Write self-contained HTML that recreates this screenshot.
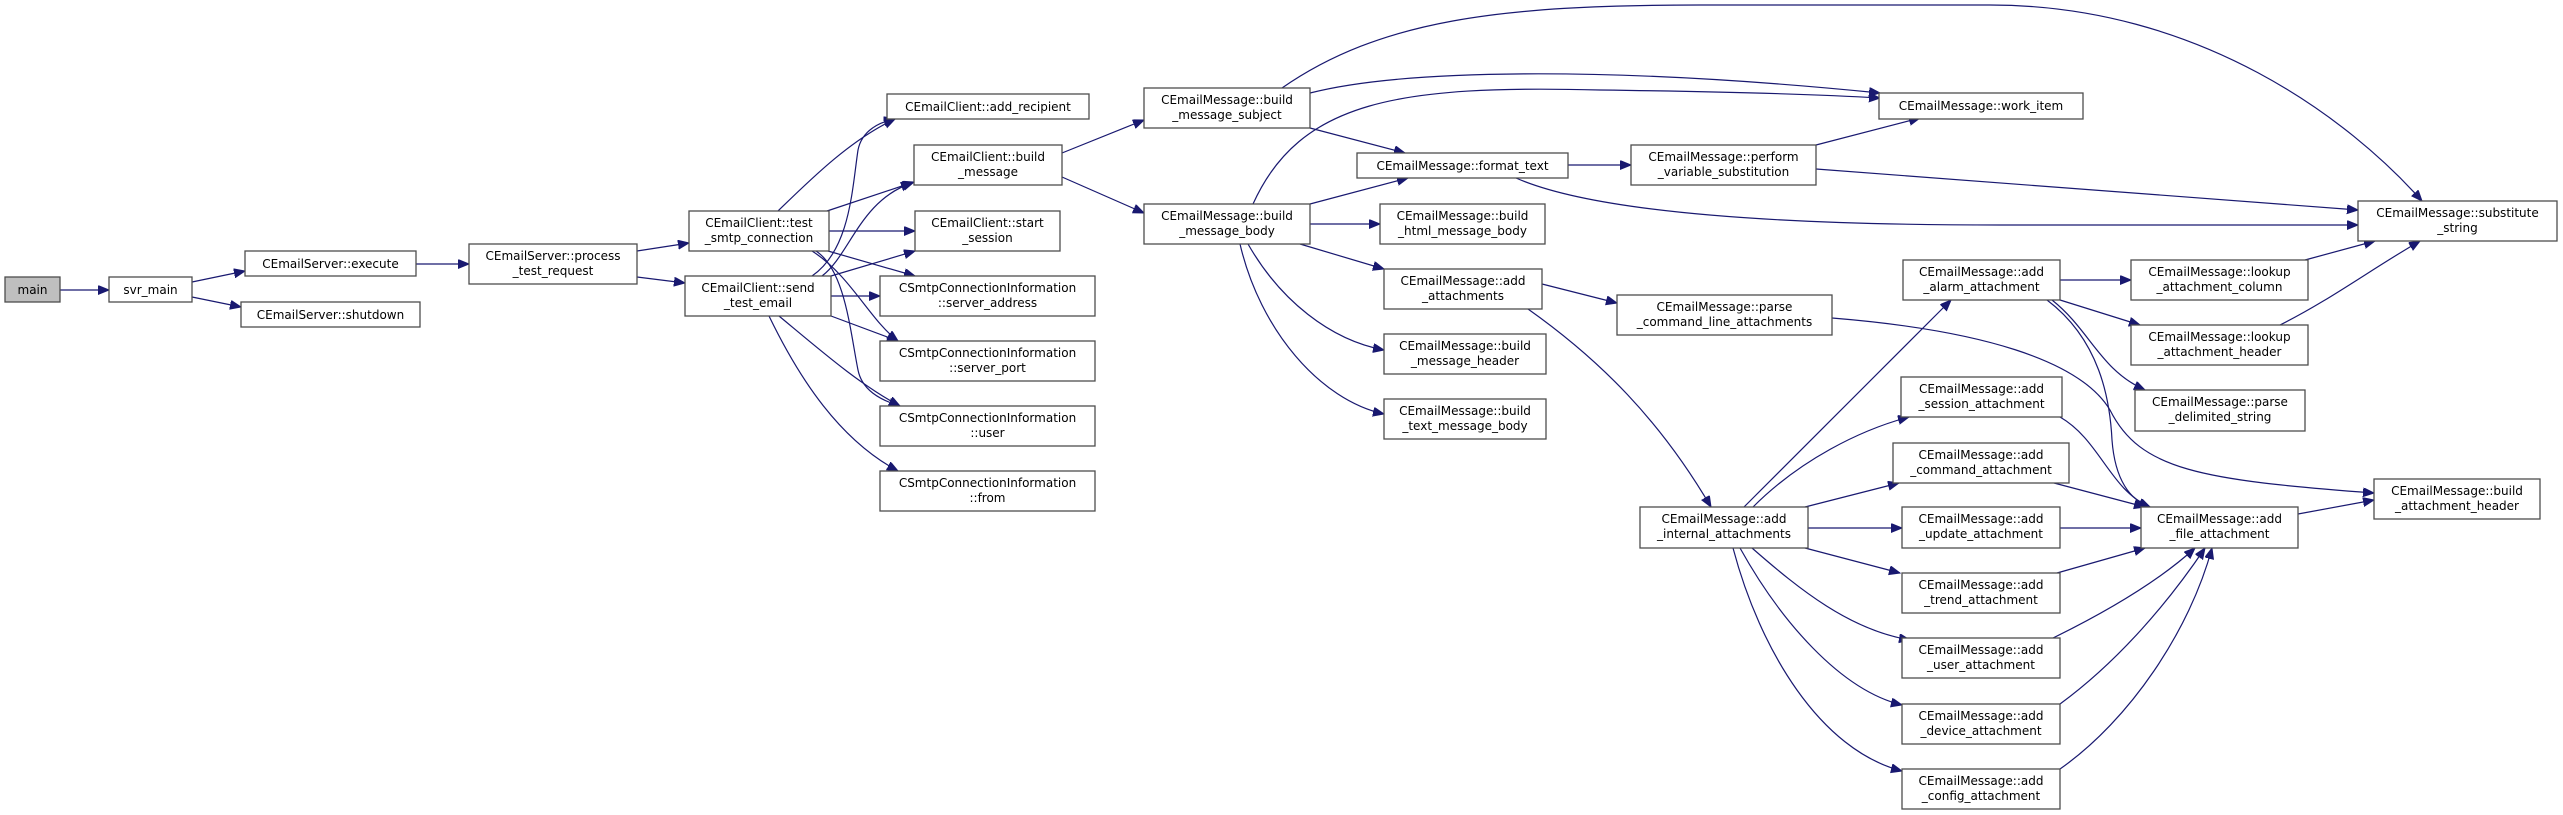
<!DOCTYPE html>
<html><head><meta charset="utf-8"><style>
html,body{margin:0;padding:0;background:#fff;}
svg{display:block}
text{font-family:"DejaVu Sans","Liberation Sans",sans-serif;font-size:12px;fill:#000;text-anchor:middle}
rect{fill:#fff;stroke:#4d4d4d;stroke-width:1.3}
path{fill:none;stroke:#191970;stroke-width:1.2}
</style></head><body>
<svg width="2563" height="815" viewBox="0 0 2563 815" xmlns="http://www.w3.org/2000/svg">
<defs><marker id="a" markerUnits="userSpaceOnUse" markerWidth="12" markerHeight="10" refX="11" refY="4.5" orient="auto"><polygon points="0,0 11,4.5 0,9" fill="#191970" stroke="#191970"/></marker></defs>
<g marker-end="url(#a)">
<path d="M60,290 L109,290"/>
<path d="M192,282 L245,271"/>
<path d="M192,297 L241,307"/>
<path d="M416,264 L469,264"/>
<path d="M637,251 L689,243"/>
<path d="M637,277 L685,283"/>
<path d="M778,211 C810,180 850,140 895,119"/>
<path d="M827,211 L914,182"/>
<path d="M829,231 L915,231"/>
<path d="M828,251 L915,276"/>
<path d="M812,251 C850,275 870,320 898,341"/>
<path d="M816,251 C845,270 850,330 858,370 C862,390 880,400 900,406"/>
<path d="M812,276 C850,250 852,190 858,150 C862,130 880,122 895,119"/>
<path d="M822,276 C850,255 860,200 912,183"/>
<path d="M831,276 L915,251"/>
<path d="M831,296 L880,296"/>
<path d="M831,316 L898,341"/>
<path d="M779,316 C820,350 860,385 900,406"/>
<path d="M769,316 C800,380 840,440 898,471"/>
<path d="M1062,153 L1144,120"/>
<path d="M1062,177 L1144,213"/>
<path d="M1310,93 C1400,70 1600,65 1880,93"/>
<path d="M1310,128 L1405,153"/>
<path d="M1282,88 C1380,20 1500,5 1700,5 L1990,5 C2200,5 2350,120 2422,201"/>
<path d="M1253,204 C1300,100 1400,85 1600,90 C1750,92 1830,95 1880,98"/>
<path d="M1310,204 L1408,178"/>
<path d="M1310,224 L1380,224"/>
<path d="M1300,244 L1384,269"/>
<path d="M1248,244 C1280,300 1330,340 1384,350"/>
<path d="M1240,244 C1260,330 1320,400 1384,414"/>
<path d="M1568,165 L1631,165"/>
<path d="M1516,178 C1600,215 1800,225 2000,225 L2358,225"/>
<path d="M1816,145 L1920,118"/>
<path d="M1816,169 L2358,210"/>
<path d="M1542,284 L1617,303"/>
<path d="M1528,309 C1600,360 1660,420 1711,507"/>
<path d="M1832,318 C1980,330 2080,360 2110,410 C2140,470 2200,480 2374,493"/>
<path d="M2047,300 C2100,340 2110,400 2112,440 C2115,480 2130,500 2150,507"/>
<path d="M2052,300 C2090,330 2100,370 2145,390"/>
<path d="M2060,280 L2131,280"/>
<path d="M2060,300 L2140,325"/>
<path d="M2305,260 L2375,241"/>
<path d="M2280,325 C2330,300 2370,270 2420,241"/>
<path d="M2060,417 C2100,440 2110,490 2150,507"/>
<path d="M2054,483 L2145,507"/>
<path d="M2298,514 L2374,500"/>
<path d="M1744,507 L1951,300"/>
<path d="M1753,507 C1800,460 1860,430 1909,417"/>
<path d="M1805,507 L1899,483"/>
<path d="M1808,528 L1902,528"/>
<path d="M1805,548 L1900,573"/>
<path d="M1752,548 C1800,590 1850,630 1910,640"/>
<path d="M1740,548 C1780,620 1840,690 1902,705"/>
<path d="M1733,548 C1760,650 1820,750 1902,771"/>
<path d="M2060,528 L2141,528"/>
<path d="M2057,573 L2145,548"/>
<path d="M2053,638 C2110,610 2160,580 2195,548"/>
<path d="M2060,704 C2120,660 2170,600 2205,548"/>
<path d="M2060,769 C2130,720 2190,630 2212,548"/>
</g>

<rect x="5" y="277" width="55" height="25" style="fill:#bfbfbf"/><text x="32.5" y="294">main</text>
<rect x="109" y="277" width="83" height="25"/><text x="150.5" y="294">svr_main</text>
<rect x="245" y="251" width="171" height="25"/><text x="330.5" y="268">CEmailServer::execute</text>
<rect x="241" y="302" width="179" height="25"/><text x="330.5" y="319">CEmailServer::shutdown</text>
<rect x="469" y="244" width="168" height="40"/><text x="553" y="260">CEmailServer::process</text><text x="553" y="275">_test_request</text>
<rect x="689" y="211" width="140" height="40"/><text x="759" y="227">CEmailClient::test</text><text x="759" y="242">_smtp_connection</text>
<rect x="685" y="276" width="146" height="40"/><text x="758" y="292">CEmailClient::send</text><text x="758" y="307">_test_email</text>
<rect x="887" y="94" width="202" height="25"/><text x="988" y="111">CEmailClient::add_recipient</text>
<rect x="914" y="145" width="148" height="40"/><text x="988" y="161">CEmailClient::build</text><text x="988" y="176">_message</text>
<rect x="915" y="211" width="145" height="40"/><text x="987.5" y="227">CEmailClient::start</text><text x="987.5" y="242">_session</text>
<rect x="880" y="276" width="215" height="40"/><text x="987.5" y="292">CSmtpConnectionInformation</text><text x="987.5" y="307">::server_address</text>
<rect x="880" y="341" width="215" height="40"/><text x="987.5" y="357">CSmtpConnectionInformation</text><text x="987.5" y="372">::server_port</text>
<rect x="880" y="406" width="215" height="40"/><text x="987.5" y="422">CSmtpConnectionInformation</text><text x="987.5" y="437">::user</text>
<rect x="880" y="471" width="215" height="40"/><text x="987.5" y="487">CSmtpConnectionInformation</text><text x="987.5" y="502">::from</text>
<rect x="1144" y="88" width="166" height="40"/><text x="1227" y="104">CEmailMessage::build</text><text x="1227" y="119">_message_subject</text>
<rect x="1144" y="204" width="166" height="40"/><text x="1227" y="220">CEmailMessage::build</text><text x="1227" y="235">_message_body</text>
<rect x="1357" y="153" width="211" height="25"/><text x="1462.5" y="170">CEmailMessage::format_text</text>
<rect x="1380" y="204" width="165" height="40"/><text x="1462.5" y="220">CEmailMessage::build</text><text x="1462.5" y="235">_html_message_body</text>
<rect x="1384" y="269" width="158" height="40"/><text x="1463" y="285">CEmailMessage::add</text><text x="1463" y="300">_attachments</text>
<rect x="1384" y="334" width="162" height="40"/><text x="1465" y="350">CEmailMessage::build</text><text x="1465" y="365">_message_header</text>
<rect x="1384" y="399" width="162" height="40"/><text x="1465" y="415">CEmailMessage::build</text><text x="1465" y="430">_text_message_body</text>
<rect x="1879" y="93" width="204" height="26"/><text x="1981" y="110">CEmailMessage::work_item</text>
<rect x="1631" y="145" width="185" height="40"/><text x="1723.5" y="161">CEmailMessage::perform</text><text x="1723.5" y="176">_variable_substitution</text>
<rect x="2358" y="201" width="199" height="40"/><text x="2457.5" y="217">CEmailMessage::substitute</text><text x="2457.5" y="232">_string</text>
<rect x="1617" y="295" width="215" height="40"/><text x="1724.5" y="311">CEmailMessage::parse</text><text x="1724.5" y="326">_command_line_attachments</text>
<rect x="1903" y="260" width="157" height="40"/><text x="1981.5" y="276">CEmailMessage::add</text><text x="1981.5" y="291">_alarm_attachment</text>
<rect x="2131" y="260" width="177" height="40"/><text x="2219.5" y="276">CEmailMessage::lookup</text><text x="2219.5" y="291">_attachment_column</text>
<rect x="2131" y="325" width="177" height="40"/><text x="2219.5" y="341">CEmailMessage::lookup</text><text x="2219.5" y="356">_attachment_header</text>
<rect x="2135" y="390" width="170" height="41"/><text x="2220" y="406">CEmailMessage::parse</text><text x="2220" y="421">_delimited_string</text>
<rect x="1901" y="377" width="161" height="40"/><text x="1981.5" y="393">CEmailMessage::add</text><text x="1981.5" y="408">_session_attachment</text>
<rect x="1893" y="443" width="176" height="40"/><text x="1981" y="459">CEmailMessage::add</text><text x="1981" y="474">_command_attachment</text>
<rect x="2374" y="479" width="166" height="40"/><text x="2457" y="495">CEmailMessage::build</text><text x="2457" y="510">_attachment_header</text>
<rect x="1640" y="507" width="168" height="41"/><text x="1724" y="523">CEmailMessage::add</text><text x="1724" y="538">_internal_attachments</text>
<rect x="1902" y="507" width="158" height="41"/><text x="1981" y="523">CEmailMessage::add</text><text x="1981" y="538">_update_attachment</text>
<rect x="2141" y="507" width="157" height="41"/><text x="2219.5" y="523">CEmailMessage::add</text><text x="2219.5" y="538">_file_attachment</text>
<rect x="1902" y="573" width="158" height="40"/><text x="1981" y="589">CEmailMessage::add</text><text x="1981" y="604">_trend_attachment</text>
<rect x="1902" y="638" width="158" height="40"/><text x="1981" y="654">CEmailMessage::add</text><text x="1981" y="669">_user_attachment</text>
<rect x="1902" y="704" width="158" height="40"/><text x="1981" y="720">CEmailMessage::add</text><text x="1981" y="735">_device_attachment</text>
<rect x="1902" y="769" width="158" height="40"/><text x="1981" y="785">CEmailMessage::add</text><text x="1981" y="800">_config_attachment</text>
</svg>
</body></html>
